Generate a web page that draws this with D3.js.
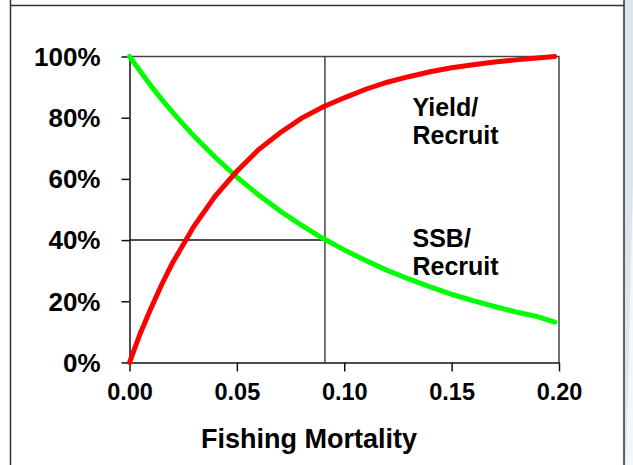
<!DOCTYPE html>
<html>
<head>
<meta charset="utf-8">
<script src="https://cdn.jsdelivr.net/npm/d3@7"></script>
<style>
  html, body { margin: 0; padding: 0; background: #fff; }
  svg text { font-family: "Liberation Sans", Arial, sans-serif; font-weight: bold; fill: #000; }
</style>
</head>
<body>
<div id="chart"></div>
<script>
// Fishing mortality (x) and relative per-recruit curves (%)
const fishingMortality = [0, 0.005, 0.01, 0.015, 0.02, 0.03, 0.04, 0.05, 0.06, 0.07, 0.08, 0.09,
  0.10, 0.11, 0.12, 0.13, 0.14, 0.15, 0.16, 0.17, 0.18, 0.19, 0.198];
const yieldPerRecruit = [0, 9.5, 17.7, 25.5, 32.5, 44.5, 54.5, 62.5, 69.5, 75, 79.8, 83.5,
  86.5, 89.3, 91.6, 93.4, 95, 96.3, 97.3, 98.2, 98.9, 99.5, 100];
const ssbPerRecruit = [100, 95.2, 90.4, 86, 81.8, 74, 67, 60.6, 54.8, 49.6, 44.9, 40.6,
  36.8, 33.3, 30.1, 27.3, 24.7, 22.3, 20.2, 18.3, 16.5, 15, 13.2];

const xTicks = [0, 0.05, 0.10, 0.15, 0.20];
const yTicks = [0, 20, 40, 60, 80, 100];

// reference point: F at 40% SSB/R
const refF = 0.091;
const refSSB = 40;

const width = 633, height = 465;

const svg = d3.select("#chart")
    .append("svg")
    .attr("width", width)
    .attr("height", height);

// slide background strip on the right
svg.append("rect")
    .attr("x", 624).attr("y", 0)
    .attr("width", 9).attr("height", height)
    .attr("fill", "#dce4ee");
svg.append("path")
    .attr("d", "M633,180 L633,465 L626,465 Z")
    .attr("fill", "#f4f7fa");

// outer frame
svg.append("path")
    .attr("d", "M10.5,0 V465 M624,0 V465 M10.5,5.5 H624")
    .attr("fill", "none")
    .attr("stroke", "#333")
    .attr("stroke-width", 1.5);

// scales
const x = d3.scaleLinear().domain([0, 0.2]).range([129.5, 559]);
const y = d3.scaleLinear().domain([0, 100]).range([362.5, 56.5]);

// plot frame (top and right)
svg.append("path")
    .attr("d", `M${x(0)},${y(100)} H${x(0.2)} V${y(0)}`)
    .attr("fill", "none")
    .attr("stroke", "#444")
    .attr("stroke-width", 1.5);

// reference lines
svg.append("line")
    .attr("x1", x(refF)).attr("x2", x(refF))
    .attr("y1", y(100)).attr("y2", y(0))
    .attr("stroke", "#444").attr("stroke-width", 1.5);
svg.append("line")
    .attr("x1", x(0)).attr("x2", x(refF))
    .attr("y1", y(refSSB)).attr("y2", y(refSSB))
    .attr("stroke", "#111").attr("stroke-width", 1.5);

// axes
const yAxis = svg.append("g")
    .attr("transform", `translate(${x(0)},0)`)
    .call(d3.axisLeft(y).tickValues(yTicks).tickSize(8).tickSizeOuter(0)
        .tickPadding(21).tickFormat(d => d + "%"));
yAxis.selectAll("text")
    .style("font-size", "26px")
    .attr("dy", "0.34em");

const xAxis = svg.append("g")
    .attr("transform", `translate(0,${y(0)})`)
    .call(d3.axisBottom(x).tickValues(xTicks).tickSize(9).tickSizeOuter(0)
        .tickPadding(12).tickFormat(d3.format(".2f")));
xAxis.selectAll("text")
    .style("font-size", "23.5px");

svg.selectAll(".domain, .tick line")
    .attr("stroke", "#111")
    .attr("stroke-width", 1.5);

// curves
const line = d3.line()
    .x((d, i) => x(fishingMortality[i]))
    .y(d => y(d));

svg.append("path")
    .datum(ssbPerRecruit)
    .attr("d", line)
    .attr("fill", "none")
    .attr("stroke", "#00ff00")
    .attr("stroke-width", 5)
    .attr("stroke-linecap", "round");

svg.append("path")
    .datum(yieldPerRecruit)
    .attr("d", line)
    .attr("fill", "none")
    .attr("stroke", "#ff0000")
    .attr("stroke-width", 5)
    .attr("stroke-linecap", "round");

// curve labels
const labels = [
  {lines: ["Yield/", "Recruit"], y: 116},
  {lines: ["SSB/", "Recruit"], y: 247}
];
labels.forEach(l => {
  const t = svg.append("text")
      .attr("x", 412.5)
      .attr("y", l.y)
      .style("font-size", "25px");
  l.lines.forEach((s, i) => {
    t.append("tspan")
        .attr("x", 412.5)
        .attr("dy", i === 0 ? 0 : 28)
        .text(s);
  });
});

// axis title
svg.append("text")
    .attr("x", 309)
    .attr("y", 448)
    .attr("text-anchor", "middle")
    .style("font-size", "27px")
    .text("Fishing Mortality");
</script>
</body>
</html>
